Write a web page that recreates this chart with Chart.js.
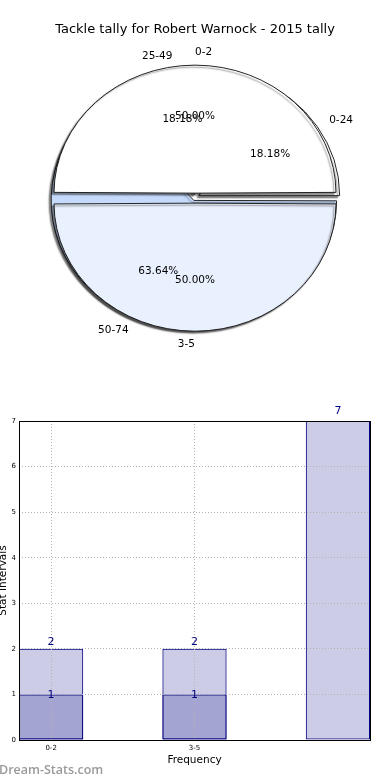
<!DOCTYPE html>
<html lang="en">
<head>
    <meta charset="UTF-8">
    <title>Tackle tally for Robert Warnock - 2015 tally</title>
    <script src="https://cdn.jsdelivr.net/npm/chart.js"></script>
    <style>
        body { margin: 0; background: #fff; }
        .page { position: relative; width: 390px; height: 780px; overflow: hidden; }
        .page canvas { position: absolute; left: 0; }
        #pieBack, #pieFront { top: 0; }
        #bars { top: 380px; }
    </style>
</head>
<body>
<div class="page">
    <canvas id="pieBack" width="390" height="370"></canvas>
    <canvas id="pieFront" width="390" height="370"></canvas>
    <canvas id="bars" width="390" height="400"></canvas>
</div>

<script>
    // pie 1: tackle ranges (drawn in matplotlib order, clockwise from 3 o'clock)
    const rangeLabels = ['50-74', '25-49', '0-24'];
    const rangeCounts = [7, 2, 2];
    const rangeColors = ['#c6dafc', '#ffffff', '#ffffff'];
    const rangeExplode = [11, 16, 20];

    // pie 2: stat intervals
    const intervalLabels = ['3-5', '0-2'];
    const intervalCounts = [1, 1];
    const intervalColors = ['#eaf1fe', '#ffffff'];
    const intervalExplode = [22, 22];

    // bar chart
    const barTickLabels = ['0-2', '3-5'];
    const totalSeries = [2, 2, 7];
    const innerSeries = [1, 1, 0];

    const title = 'Tackle tally for Robert Warnock - 2015 tally';
    const SQUISH = 0.908;   // the original pie is an ellipse
    const font = '"DejaVu Sans", sans-serif';

    // squash the wedges vertically and give them a shadow
    const ellipse = {
        id: 'ellipse',
        beforeDatasetsDraw(chart) {
            const a = chart.chartArea;
            const cx = (a.left + a.right) / 2, cy = (a.top + a.bottom) / 2;
            const ctx = chart.ctx;
            ctx.save();
            ctx.translate(cx, cy);
            ctx.scale(1, SQUISH);
            ctx.translate(-cx, -cy);
            ctx.shadowColor = 'rgba(0,0,0,0.45)';
            ctx.shadowOffsetX = -2;
            ctx.shadowOffsetY = 2;
            ctx.shadowBlur = 1.5;
        },
        afterDatasetsDraw(chart) {
            chart.ctx.restore();
        }
    };

    function pieOptions(titleColor, radius) {
        return {
            responsive: false,
            animation: false,
            events: [],
            rotation: 90,
            radius: radius,
            clip: false,
            layout: { padding: { bottom: 11.5 } },
            plugins: {
                legend: { display: false },
                tooltip: { enabled: false },
                title: {
                    display: true,
                    text: title,
                    color: titleColor,
                    font: { family: font, size: 13, weight: 'normal' },
                    padding: { top: 22.2, bottom: 0 }
                }
            }
        };
    }

    const pieBack = new Chart(document.getElementById('pieBack'), {
        type: 'pie',
        data: {
            labels: rangeLabels,
            datasets: [{
                data: rangeCounts,
                backgroundColor: rangeColors,
                borderColor: '#1a1a1a',
                borderWidth: 1,
                offset: rangeExplode
            }]
        },
        options: pieOptions('#000', 140),
        plugins: [ellipse]
    });

    // every pie text sits above every wedge, so the front chart writes them all
    const pieLabels = {
        id: 'pieLabels',
        afterDraw(chart) {
            const ctx = chart.ctx;
            ctx.save();
            ctx.fillStyle = '#000';
            ctx.font = '10.5px ' + font;
            [pieBack, chart].forEach(c => {
                const meta = c.getDatasetMeta(0);
                const labels = c.data.labels;
                const values = c.data.datasets[0].data;
                const total = values.reduce((s, v) => s + v, 0);
                meta.data.forEach((arc, i) => {
                    const mid = (arc.startAngle + arc.endAngle) / 2;
                    const t = (arc.options.offset || 0) / 4;
                    const fix = 1 - Math.sin(Math.min(Math.PI, arc.circumference));
                    const r = arc.outerRadius + t * fix;
                    const cos = Math.cos(mid), sin = Math.sin(mid);
                    const at = d => [arc.x + cos * (t + d), arc.y + sin * (t + d) * SQUISH];

                    let [x, y] = at(r * 0.6);
                    ctx.textAlign = 'center';
                    ctx.textBaseline = 'middle';
                    ctx.fillText((values[i] / total * 100).toFixed(2) + '%', x, y);

                    [x, y] = at(r * 1.1);
                    let align;
                    if (cos > 1e-9) align = 'left';
                    else if (cos < -1e-9) align = 'right';
                    else align = sin < 0 ? 'left' : 'right';
                    ctx.textAlign = align;
                    ctx.fillText(labels[i], x, y);
                });
            });
            ctx.restore();
        }
    };

    new Chart(document.getElementById('pieFront'), {
        type: 'pie',
        data: {
            labels: intervalLabels,
            datasets: [{
                data: intervalCounts,
                backgroundColor: intervalColors,
                borderColor: '#1a1a1a',
                borderWidth: 1,
                offset: intervalExplode
            }]
        },
        options: pieOptions('rgba(0,0,0,0)', 135.5),
        plugins: [ellipse, pieLabels]
    });

    // bars
    const navy = '#000080';
    const barFill = 'rgba(0,0,128,0.2)';

    const frame = {
        id: 'frame',
        afterDraw(chart) {
            const a = chart.chartArea;
            const ctx = chart.ctx;
            ctx.save();
            ctx.strokeStyle = '#000';
            ctx.lineWidth = 1;
            ctx.strokeRect(Math.round(a.left) + 0.5, Math.round(a.top) + 0.5,
                Math.round(a.right - a.left), Math.round(a.bottom - a.top));

            // bar values
            ctx.fillStyle = navy;
            ctx.font = '11px ' + font;
            ctx.textAlign = 'center';
            const yScale = chart.scales.y;
            chart.data.datasets.forEach((ds, di) => {
                chart.getDatasetMeta(di).data.forEach((bar, i) => {
                    const v = ds.data[i].y;
                    if (!v) return;
                    if (di === 0) {
                        ctx.textBaseline = 'bottom';
                        ctx.fillText(String(v), bar.x, yScale.getPixelForValue(v * 1.015));
                    } else {
                        ctx.textBaseline = 'middle';
                        ctx.fillText(String(v), bar.x, bar.y + 1);
                    }
                });
            });

            // watermark
            ctx.fillStyle = '#9a9a9a';
            ctx.font = '600 12.5px "Open Sans", sans-serif';
            ctx.textAlign = 'left';
            ctx.textBaseline = 'middle';
            ctx.fillText('Dream-Stats.com', -1, 390);
            ctx.restore();
        }
    };

    const toPoints = arr => arr.map((v, i) => ({ x: i, y: v }));
    const gridStyle = { color: '#b4b4b4', lineWidth: 1, z: 1, drawTicks: false, offset: false };
    const barStyle = {
        backgroundColor: barFill,
        borderColor: navy,
        borderWidth: 1,
        borderSkipped: false,
        grouped: false,
        barPercentage: 0.448,
        categoryPercentage: 1
    };

    new Chart(document.getElementById('bars'), {
        type: 'bar',
        data: {
            datasets: [
                Object.assign({ data: toPoints(totalSeries) }, barStyle),
                Object.assign({ data: toPoints(innerSeries) }, barStyle)
            ]
        },
        options: {
            responsive: false,
            animation: false,
            events: [],
            layout: { padding: { top: 41, right: 20, left: 0, bottom: 0 } },
            plugins: { legend: { display: false }, tooltip: { enabled: false } },
            scales: {
                x: {
                    type: 'linear',
                    offset: false,
                    min: -0.224,
                    max: 2.224,
                    afterBuildTicks: s => { s.ticks = barTickLabels.map((l, i) => ({ value: i })); },
                    afterFit: s => { s.height = 40; },
                    grid: gridStyle,
                    border: { display: false, dash: [1, 2] },
                    ticks: {
                        color: '#000',
                        padding: 4,
                        font: { family: font, size: 7 },
                        callback: v => barTickLabels[v] ?? ''
                    },
                    title: {
                        display: true,
                        text: 'Frequency',
                        color: '#000',
                        font: { family: font, size: 10.5 },
                        padding: { top: 0, bottom: 13.7 }
                    }
                },
                y: {
                    min: 0,
                    max: 7,
                    afterFit: s => { s.width = 19; },
                    grid: gridStyle,
                    border: { display: false, dash: [1, 2] },
                    ticks: {
                        stepSize: 1,
                        color: '#000',
                        padding: 3,
                        font: { family: font, size: 7 }
                    },
                    title: {
                        display: true,
                        text: 'Stat Intervals',
                        color: '#000',
                        font: { family: font, size: 10.5 },
                        padding: { top: -3, bottom: 0 }
                    }
                }
            }
        },
        plugins: [frame]
    });
</script>
</body>
</html>
